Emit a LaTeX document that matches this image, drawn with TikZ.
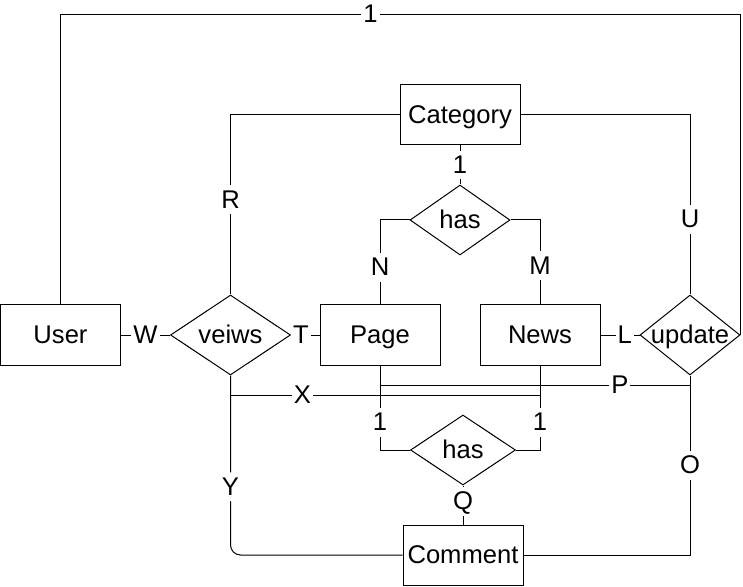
\documentclass[tikz,border=0pt]{standalone}
\usepackage{fontspec}
\setmainfont{Liberation Sans}
\usetikzlibrary{shapes.geometric}
\begin{document}
\begin{tikzpicture}[x=0.5pt, y=-0.5pt, line width=0.5pt,
    every node/.style={font=\fontsize{12.8}{15}\selectfont, text height=10.4pt, text depth=2pt},
    entity/.style={draw, minimum width=60pt, minimum height=30pt, inner sep=0pt},
    rel/.style={draw, diamond, inner sep=0pt},
    lbl/.style={fill=white, inner sep=1pt}]
    \useasboundingbox (0,0) rectangle (743,587);
    % entities
    \node[entity] (user) at (60.5,335) {User};
    \node[entity] (category) at (460,115) {Category};
    \node[entity] (page) at (380,335) {Page};
    \node[entity] (news) at (540,335) {News};
    \node[entity] (comment) at (463,555) {Comment};
    % relations
    \node[rel, minimum width=60pt, minimum height=40pt, label=center:veiws] (veiws) at (230.5,335) {};
    \node[rel, minimum width=50pt, minimum height=40pt, label=center:update] (update) at (690,335) {};
    \node[rel, minimum width=50pt, minimum height=35pt, label=center:has] (hascat) at (460,220) {};
    \node[rel, minimum width=52.5pt, minimum height=35pt, label=center:has] (hascom) at (463,450) {};
    % links
    \draw (user.north) -- ++(0,-290) -| node[lbl, pos=0.228] {1} (update.east);
    \draw (user) -- node[lbl] {W} (veiws);
    \draw (veiws) -- node[lbl, pos=0.35] {T} (page);
    \draw (veiws.north) |- node[lbl, pos=0.264] {R} (category.west);
    \draw (category.east) -| node[lbl, pos=0.79] {U} (update.north);
    \draw (category) -- node[lbl] {1} (hascat);
    \draw (hascat.west) -| node[lbl, pos=0.78] {N} (page.north);
    \draw (hascat.east) -| node[lbl, pos=0.77] {M} (news.north);
    \draw (news) -- node[lbl, pos=0.62] {L} (update);
    \draw (veiws.south) -- ++(0,20) -| node[lbl, pos=0.116] {X} (news.south);
    \draw (page.south) -- ++(0,20) -| node[lbl, pos=0.387] {P} (update.south);
    \draw (page.south) |- node[lbl, pos=0.335] {1} (hascom.west);
    \draw (news.south) |- node[lbl, pos=0.335] {1} (hascom.east);
    \draw (hascom) -- node[lbl, pos=0.4] {Q} (comment);
    \draw[rounded corners=5pt] (veiws.south) |- node[lbl, pos=0.31] {Y} (comment.west);
    \draw (update.south) |- node[lbl, pos=0.25] {O} (comment.east);
\end{tikzpicture}
\end{document}
